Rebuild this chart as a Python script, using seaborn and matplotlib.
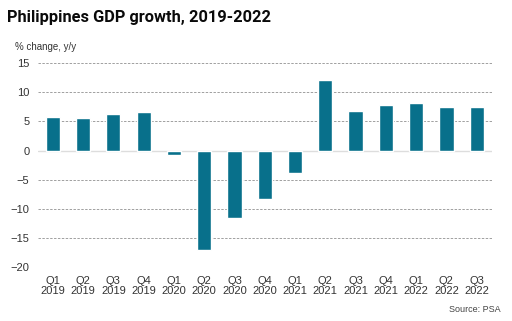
import matplotlib
matplotlib.use("Agg")
import matplotlib.pyplot as plt
import seaborn as sns
import pandas as pd

quarters = ["Q1\n2019", "Q2\n2019", "Q3\n2019", "Q4\n2019",
            "Q1\n2020", "Q2\n2020", "Q3\n2020", "Q4\n2020",
            "Q1\n2021", "Q2\n2021", "Q3\n2021", "Q4\n2021",
            "Q1\n2022", "Q2\n2022", "Q3\n2022"]
growth = [5.8, 5.5, 6.2, 6.6, -0.7, -17.0, -11.6, -8.3, -3.9, 12.0, 6.8, 7.8, 8.2, 7.4, 7.4]
yticks = [15, 10, 5, 0, -5, -10, -15, -20]

sns.set_theme(style="white")
plt.rcParams['font.family'] = ['Liberation Sans', 'DejaVu Sans']

df = pd.DataFrame({"q": quarters, "g": growth})

fig = plt.figure(figsize=(5.12, 3.21), dpi=100)
ax = fig.add_axes([0.0736, 0.167, 0.887, 0.637])

sns.barplot(data=df, x="q", y="g", color="#08708b", saturation=1, width=0.47, ax=ax, zorder=3)

ax.set_ylim(-20, 15)
ax.set_xlim(-0.5, len(quarters) - 0.5)
ax.set_yticks(yticks)
for t in yticks:
    if t == 0:
        ax.axhline(0, color="#dddddd", lw=1.0, zorder=2)
    else:
        ax.axhline(t, color="#a0a0a0", lw=0.7, ls=(0, (2.5, 1.5)), zorder=1)
for s in ax.spines.values():
    s.set_visible(False)
ax.tick_params(axis="both", length=0, labelsize=8, colors="#333333")
ax.tick_params(axis="y", pad=6)
ax.tick_params(axis="x", pad=6)
ax.set_xlabel("")
ax.set_ylabel("")
for lbl in ax.get_xticklabels():
    lbl.set_linespacing(1.05)

fig.text(0.014, 0.945, "Philippines GDP growth, 2019-2022", fontsize=11.8, fontweight="bold",
         color="#0a0a0a", family=["Liberation Sans Narrow", "Roboto", "DejaVu Sans"], va="center")
fig.text(0.03, 0.853, "% change, y/y", fontsize=7, color="#333333", va="center")
fig.text(0.978, 0.035, "Source: PSA", fontsize=6.5, color="#444444", ha="right", va="center")

fig.savefig("out.png", dpi=100)
